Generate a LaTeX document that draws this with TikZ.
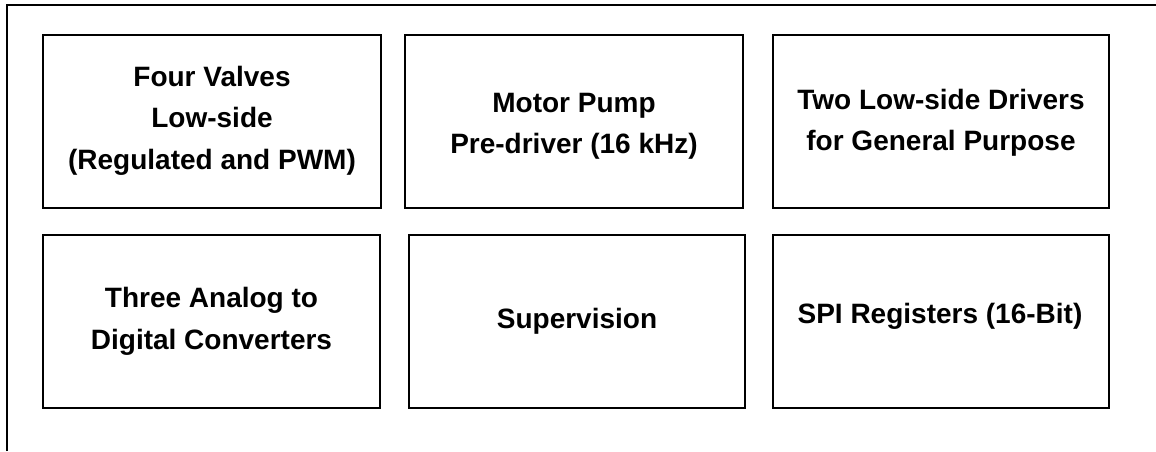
\documentclass[tikz,border=0pt]{standalone}
\usepackage{fontspec}
\setmainfont{Liberation Sans}
\begin{document}
\begin{tikzpicture}[x=1pt,y=-1pt,
  blockbox/.style={draw, line width=1.5pt, inner sep=0pt, minimum height=173pt},
  blocktext/.style={inner sep=0pt, align=center,
    font=\fontsize{28}{41.5}\selectfont\bfseries},
  frameline/.style={line width=1.5pt}]
\useasboundingbox (0,0) rectangle (1156,451);
\coordinate (fbl) at (7,451);
\coordinate (ftl) at (7,5);
\coordinate (ftr) at (1156,5);
\draw[frameline] (fbl) -- (ftl) -- (ftr);
\node[blockbox, minimum width=338pt] (b1) at (212,121.5) {};
\node[blockbox, minimum width=338pt] (b2) at (574,121.5) {};
\node[blockbox, minimum width=336pt] (b3) at (941,121.5) {};
\node[blockbox, minimum width=337pt] (b4) at (211.5,321.5) {};
\node[blockbox, minimum width=336pt] (b5) at (577,321.5) {};
\node[blockbox, minimum width=336pt] (b6) at (941,321.5) {};
\node[blocktext] (t1) at ([yshift=1pt]b1.center) {Four Valves\\Low-side\\(Regulated and PWM)};
\node[blocktext] (t2) at ([yshift=-5pt]b2.center) {Motor Pump\\Pre-driver (16 kHz)};
\node[blocktext] (t3) at ([yshift=-1.5pt]b3.center) {Two Low-side Drivers\\for General Purpose};
\node[blocktext] (t4) at ([yshift=0pt]b4.center) {Three Analog to\\Digital Converters};
\node[blocktext] (t5) at ([yshift=0pt]b5.center) {Supervision};
\node[blocktext] (t6) at ([xshift=-1pt,yshift=5pt]b6.center) {SPI Registers (16-Bit)};
\end{tikzpicture}
\end{document}
